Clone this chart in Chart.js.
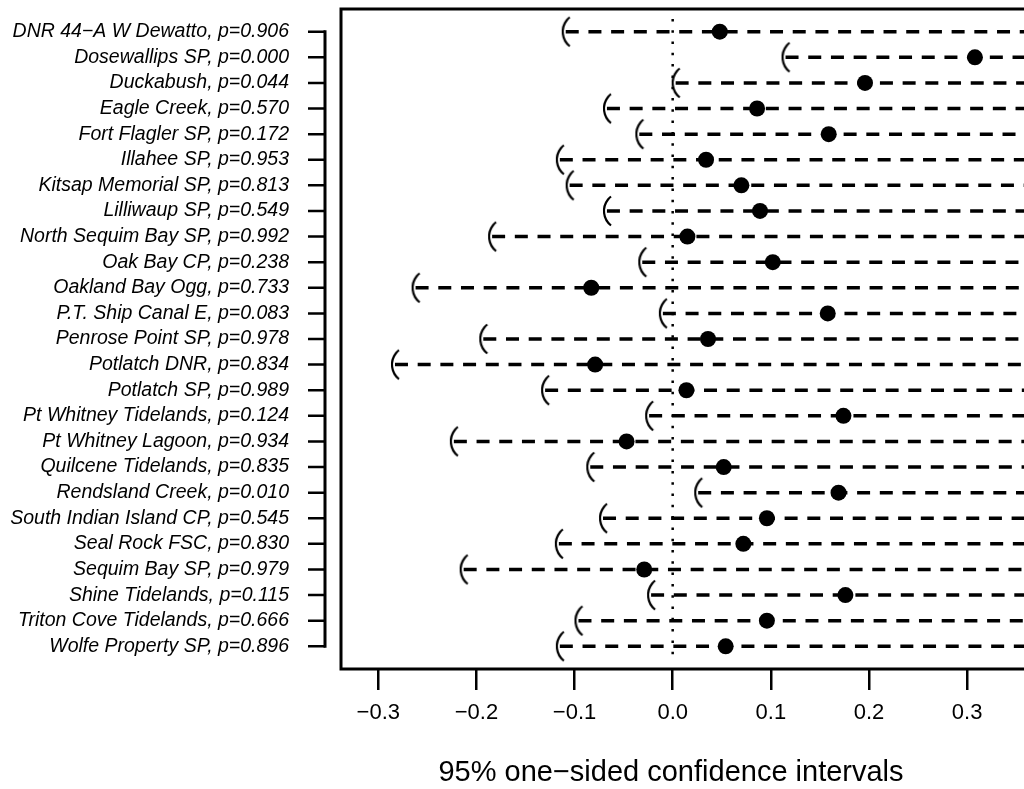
<!DOCTYPE html>
<html>
<head>
<meta charset="utf-8">
<script src="https://cdn.jsdelivr.net/npm/chart.js@4.4.1/dist/chart.umd.min.js"></script>
<style>
  html, body { margin: 0; padding: 0; background: #fff; overflow: hidden; }
  canvas { display: block; }
</style>
</head>
<body>
<canvas id="chart" width="1024" height="789"></canvas>
<script>
// Sites, one row each, top to bottom
const sites = [
  'DNR 44\u2212A W Dewatto', 'Dosewallips SP', 'Duckabush', 'Eagle Creek',
  'Fort Flagler SP', 'Illahee SP', 'Kitsap Memorial SP', 'Lilliwaup SP',
  'North Sequim Bay SP', 'Oak Bay CP', 'Oakland Bay Ogg', 'P.T. Ship Canal E',
  'Penrose Point SP', 'Potlatch DNR', 'Potlatch SP', 'Pt Whitney Tidelands',
  'Pt Whitney Lagoon', 'Quilcene Tidelands', 'Rendsland Creek',
  'South Indian Island CP', 'Seal Rock FSC', 'Sequim Bay SP', 'Shine Tidelands',
  'Triton Cove Tidelands', 'Wolfe Property SP'
];

// One-sided test p-values
const pValues = [
  0.906, 0.000, 0.044, 0.570, 0.172, 0.953, 0.813, 0.549, 0.992, 0.238,
  0.733, 0.083, 0.978, 0.834, 0.989, 0.124, 0.934, 0.835, 0.010, 0.545,
  0.830, 0.979, 0.115, 0.666, 0.896
];

// Lower limits of the 95% one-sided intervals (upper limit open)
const lowerBounds = [
  -0.109, 0.115, 0.003, -0.067, -0.034, -0.115, -0.105, -0.067, -0.184, -0.031,
  -0.262, -0.010, -0.193, -0.283, -0.130, -0.024, -0.223, -0.084, 0.026, -0.071,
  -0.116, -0.213, -0.022, -0.096, -0.115
];

// Point estimates
const estimates = [
  0.048, 0.308, 0.196, 0.086, 0.159, 0.034, 0.070, 0.089, 0.015, 0.102,
  -0.083, 0.158, 0.036, -0.079, 0.014, 0.174, -0.047, 0.052, 0.169, 0.096,
  0.072, -0.029, 0.176, 0.096, 0.054
];

const xTickValues = [-0.3, -0.2, -0.1, 0.0, 0.1, 0.2, 0.3];
const xTitle = '95% one\u2212sided confidence intervals';

const rowLabels = sites.map((s, i) => s + ', p=' + pValues[i].toFixed(3));

const X_MIN = -0.338, X_MAX = 0.358;
const Y_PAD = 0.886;
const FONT = '"Liberation Sans", Arial, Helvetica, sans-serif';

// "(" shaped mark for an open-ended lower limit
function bracketMark() {
  const c = document.createElement('canvas');
  c.width = 24; c.height = 34;
  const g = c.getContext('2d');
  const R = 18.5, a = 0.9;
  g.strokeStyle = '#000';
  g.lineWidth = 2.2;
  g.beginPath();
  g.arc(9 + R, 17, R, Math.PI - a, Math.PI + a);
  g.stroke();
  return c;
}
const mark = bracketMark();

const datasets = [];
// point estimates, drawn on top
datasets.push({
  type: 'scatter',
  data: estimates.map((v, i) => ({ x: v, y: i })),
  pointRadius: 8,
  pointHoverRadius: 8,
  pointBackgroundColor: '#000',
  pointBorderWidth: 0,
  showLine: false
});
// dashed one-sided intervals running off to the right
lowerBounds.forEach((lo, i) => {
  datasets.push({
    type: 'line',
    data: [{ x: lo, y: i }, { x: X_MAX, y: i }],
    borderColor: '#000',
    borderWidth: 3.5,
    borderDash: [13, 9.7],
    borderCapStyle: 'butt',
    pointStyle: [mark, 'circle'],
    pointRadius: [6, 0],
    pointHoverRadius: [6, 0],
    fill: false,
    tension: 0
  });
});
// dotted reference at zero
datasets.push({
  type: 'line',
  data: [{ x: 0, y: -0.5 }, { x: 0, y: sites.length - 0.5 }],
  borderColor: '#000',
  borderWidth: 2.5,
  borderDash: [2.5, 8.8],
  pointRadius: 0,
  fill: false
});

// plot box (open to the right), detached left axis with ticks, axis title
const framePlugin = {
  id: 'frame',
  afterDatasetsDraw(chart) {
    const { ctx, chartArea: a, scales: { y } } = chart;
    ctx.save();
    ctx.strokeStyle = '#000';
    ctx.lineCap = 'butt';
    ctx.lineWidth = 3;
    ctx.beginPath();
    ctx.moveTo(chart.width + 10, a.top);
    ctx.lineTo(a.left, a.top);
    ctx.lineTo(a.left, a.bottom);
    ctx.lineTo(chart.width + 10, a.bottom);
    ctx.stroke();

    const ax = a.left - 16;
    const yTop = y.getPixelForValue(0);
    const yBot = y.getPixelForValue(sites.length - 1);
    ctx.beginPath();
    ctx.moveTo(ax, yTop - 1.5);
    ctx.lineTo(ax, yBot + 1.5);
    ctx.stroke();
    ctx.lineWidth = 2.5;
    ctx.beginPath();
    sites.forEach((_, i) => {
      const yy = y.getPixelForValue(i);
      ctx.moveTo(ax, yy);
      ctx.lineTo(ax - 17, yy);
    });
    ctx.stroke();

    ctx.fillStyle = '#000';
    ctx.font = '29px ' + FONT;
    ctx.textAlign = 'center';
    ctx.textBaseline = 'middle';
    ctx.fillText(xTitle, 671, 773);
    ctx.restore();
  }
};

new Chart(document.getElementById('chart'), {
  data: { datasets },
  options: {
    responsive: false,
    animation: false,
    devicePixelRatio: 1,
    layout: { autoPadding: false, padding: { top: 9, left: 0, right: 0, bottom: 0 } },
    plugins: { legend: { display: false }, tooltip: { enabled: false } },
    scales: {
      x: {
        type: 'linear',
        position: 'bottom',
        min: X_MIN,
        max: X_MAX,
        afterBuildTicks: s => { s.ticks = xTickValues.map(v => ({ value: v })); },
        ticks: {
          callback: v => v.toFixed(1).replace('-', '\u2212'),
          font: { family: FONT, size: 22 },
          color: '#000',
          padding: 10,
          maxRotation: 0,
          autoSkip: false
        },
        grid: { drawOnChartArea: false, drawTicks: true, tickLength: 21, color: '#000', lineWidth: 2.5 },
        border: { display: false },
        title: { display: false },
        afterFit: s => { s.height = 120; s.paddingLeft = 0; s.paddingRight = 0; }
      },
      y: {
        type: 'linear',
        position: 'left',
        reverse: true,
        min: -Y_PAD,
        max: sites.length - 1 + Y_PAD,
        afterBuildTicks: s => { s.ticks = sites.map((_, i) => ({ value: i })); },
        ticks: {
          callback: v => rowLabels[v],
          font: { family: FONT, size: 19.5, style: 'italic' },
          color: '#000',
          padding: 52,
          autoSkip: false
        },
        grid: { display: false, drawTicks: false },
        border: { display: false },
        afterFit: s => { s.width = 341; s.paddingTop = 0; s.paddingBottom = 0; }
      }
    }
  },
  plugins: [framePlugin]
});
</script>
</body>
</html>
